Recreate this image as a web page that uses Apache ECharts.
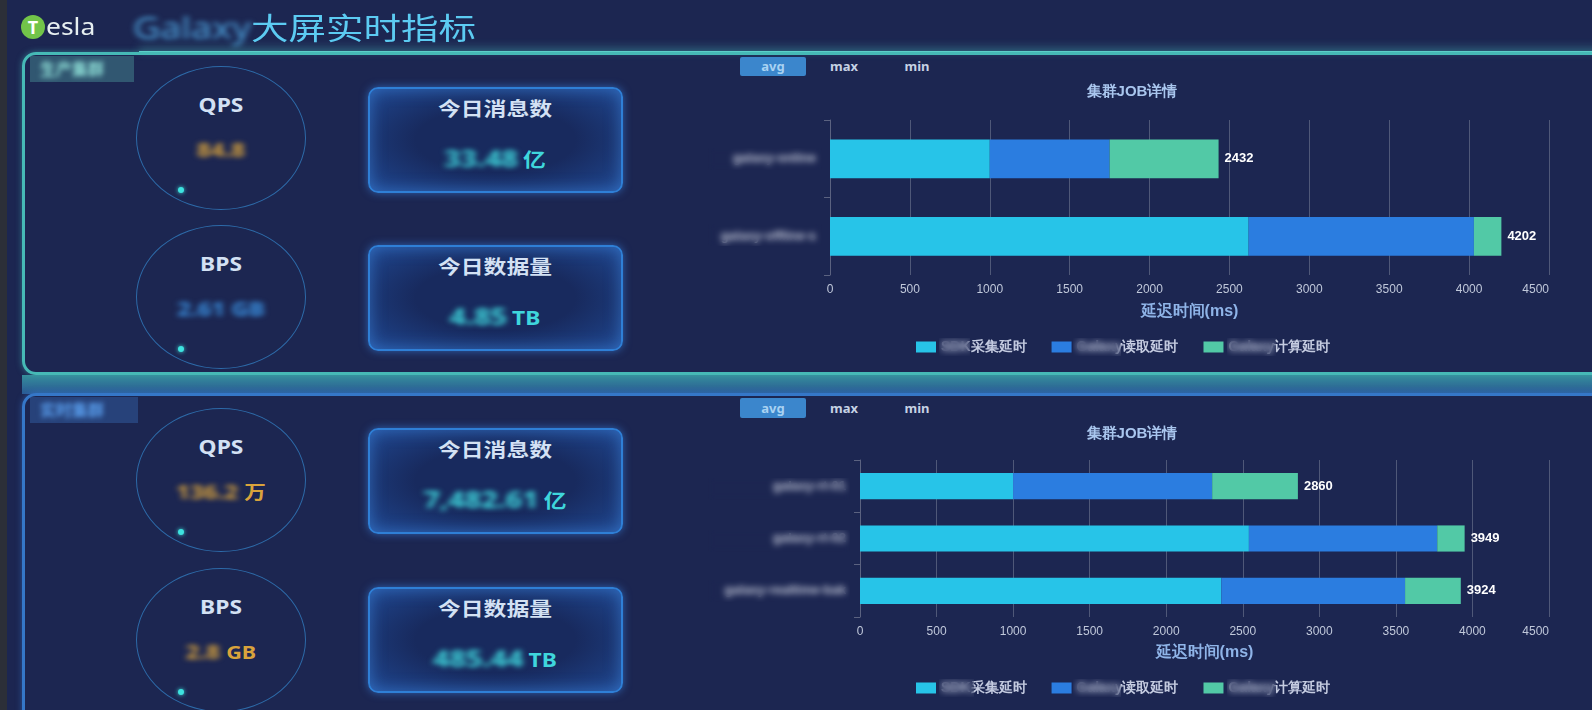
<!DOCTYPE html>
<html>
<head>
<meta charset="utf-8">
<title>Galaxy大屏实时指标</title>
<script src="https://cdn.jsdelivr.net/npm/echarts/dist/echarts.min.js"></script>
<style>
  html, body { margin: 0; padding: 0; }
  body {
    width: 1592px; height: 710px; overflow: hidden; position: relative;
    background: #1c2651;
    font-family: "Noto Sans", "Noto Sans CJK SC", sans-serif;
  }
  .abs { position: absolute; }
  .ctr { position: absolute; white-space: nowrap; transform: translate(-50%, -50%) scaleX(1.2); }
  .strip { left: 0; top: 0; width: 7px; height: 710px; background: #2c2f38; z-index: 5; }
  .logo { left: 21px; top: 15px; width: 24px; height: 24px; border-radius: 50%; background: #72c449;
          color: #fff; font-weight: bold; font-size: 18px; line-height: 24px; text-align: center; }
  .brand { left: 46px; top: 10px; color: #e6eef0; font-size: 23px; transform: scaleX(1.15); transform-origin: 0 50%; }
  .head-title { left: 133px; top: 4px; font-size: 30px; color: #5ccbf2; white-space: nowrap;
                transform: scaleX(1.25); transform-origin: 0 50%; }
  .masked { filter: blur(2.5px); }
  .head-line { left: 139px; top: 51px; width: 1470px; height: 3px; background: #63d7cd;
               box-shadow: 0 -3px 9px rgba(90, 210, 200, .55); }
  .panel { box-sizing: border-box; border-radius: 14px; }
  .panel-top { left: 22px; top: 52px; width: 1620px; height: 323px; border: 3px solid #46b9b6;
               box-shadow: 0 0 6px rgba(70, 190, 190, .5); }
  .band { left: 22px; top: 375px; width: 1620px; height: 19px;
          background: linear-gradient(to bottom, rgba(58, 160, 168, .85), rgba(44, 98, 160, .85)); }
  .panel-bot { left: 22px; top: 393px; width: 1620px; height: 400px; border: 3px solid #3577c8;
               box-shadow: 0 0 6px rgba(60, 130, 220, .5); }
  .tab { box-sizing: border-box; font-size: 16px; font-weight: bold; line-height: 26px; padding-left: 10px; }
  .ring { position: absolute; width: 170px; height: 144px; border: 1.5px solid #2d6aa8;
          border-radius: 50%; box-sizing: border-box; }
  .dot { position: absolute; width: 6px; height: 6px; border-radius: 50%; background: #3ee3e0;
         box-shadow: 0 0 4px #3ee3e0; }
  .lbl { color: #d3e1f4; font-weight: bold; font-size: 19px; }
  .orange { color: #d9a33c; font-weight: bold; font-size: 20px; }
  .cyan { color: #3fd6dc; font-weight: bold; }
  .box { position: absolute; left: 368px; width: 255px; height: 106px; box-sizing: border-box;
         border: 2px solid #2f7fd6; border-radius: 10px;
         background: radial-gradient(ellipse at center, #182a5e 45%, #1f4790 100%);
         box-shadow: 0 0 8px rgba(60, 140, 240, .6), inset 0 0 16px rgba(70, 150, 240, .5); }
  .btn { position: absolute; font-size: 13px; font-weight: bold; color: #c6d2e4; text-align: center; }
  .btn-on { background: #3b86cc; color: #a9d2f2; border-radius: 2px; }
  .chart { position: absolute; left: 700px; width: 892px; height: 290px; }
  .blur { position: absolute; backdrop-filter: blur(3px); -webkit-backdrop-filter: blur(3px); z-index: 10; }
</style>
</head>
<body>
<div class="abs strip"></div>

<!-- header -->
<div class="abs logo">T</div>
<div class="abs brand">esla</div>
<div class="abs head-title"><span class="masked" style="color:#4c9fd8">Galaxy</span>大屏实时指标</div>
<div class="abs head-line"></div>

<!-- cluster panels -->
<div class="abs panel panel-top"></div>
<div class="abs band"></div>
<div class="abs panel panel-bot"></div>
<div class="abs tab" style="left:30px;top:56px;width:104px;height:26px;background:rgba(90,180,175,.35);color:#8fe0d8;">
  <span class="masked">生产集群</span></div>
<div class="abs tab" style="left:30px;top:397px;width:108px;height:26px;background:rgba(60,120,200,.35);color:#5aa0f0;">
  <span class="masked">实时集群</span></div>

<div id="metrics"></div>

<!-- aggregation switch -->
<div class="btn btn-on" style="left:740px;top:57px;width:66px;height:19px;line-height:19px;">avg</div>
<div class="btn" style="left:824px;top:57px;width:40px;line-height:19px;">max</div>
<div class="btn" style="left:897px;top:57px;width:40px;line-height:19px;">min</div>
<div class="btn btn-on" style="left:740px;top:398px;width:66px;height:20px;line-height:20px;">avg</div>
<div class="btn" style="left:824px;top:398px;width:40px;line-height:20px;">max</div>
<div class="btn" style="left:897px;top:398px;width:40px;line-height:20px;">min</div>

<div id="chartTop" class="chart" style="top:80px;"></div>
<div id="chartBot" class="chart" style="top:420px;"></div>

<!-- masked cluster names and product names -->
<div class="blur" style="left:708px;top:148px;width:114px;height:22px;"></div>
<div class="blur" style="left:708px;top:224px;width:114px;height:22px;"></div>
<div class="blur" style="left:708px;top:478px;width:142px;height:22px;"></div>
<div class="blur" style="left:708px;top:530px;width:142px;height:22px;"></div>
<div class="blur" style="left:708px;top:580px;width:142px;height:22px;"></div>
<div class="blur" style="left:939px;top:338px;width:31px;height:18px;"></div>
<div class="blur" style="left:1073px;top:338px;width:48px;height:18px;"></div>
<div class="blur" style="left:1227px;top:338px;width:49px;height:18px;"></div>
<div class="blur" style="left:939px;top:679px;width:35px;height:18px;"></div>
<div class="blur" style="left:1073px;top:679px;width:48px;height:18px;"></div>
<div class="blur" style="left:1227px;top:679px;width:49px;height:18px;"></div>

<script>
// ---- cluster summary figures ----
const summaryCenters = [138, 297, 480, 640];          // ring centres (y) for QPS/BPS of both clusters
const boxTops = [87, 245, 428, 587];
const qpsValues = ['84.8', '136.2'];
const qpsUnits = ['', '万'];
const bpsValues = ['2.61 GB', '2.8'];
const bpsUnits = ['', 'GB'];
const msgValues = ['33.48', '7,482.61'];
const volValues = ['4.85', '485.44'];

// ---- JOB latency (ms) per cluster ----
const seriesNames = ['SDK采集延时', 'Galaxy读取延时', 'Galaxy计算延时'];
const seriesColors = ['#27c4e8', '#2b7de0', '#52c9a6'];

const topClusters = ['galaxy-online', 'galaxy-offline-s'];
const topCollect = [1000, 2620];
const topRead = [750, 1410];
const topCompute = [682, 172];

const botClusters = ['galaxy-rt-01', 'galaxy-rt-02', 'galaxy-realtime-bak'];
const botCollect = [1000, 2540, 2360];
const botRead = [1300, 1230, 1200];
const botCompute = [560, 179, 364];

const axisMin = 0, axisMax = 4500, axisStep = 500;

// ---- summary widgets (rings and boxes) ----
(function buildMetrics() {
  const root = document.getElementById('metrics');
  let html = '';
  summaryCenters.forEach(function (cy, i) {
    const cluster = Math.floor(i / 2);
    const isQps = i % 2 === 0;
    html += '<div class="ring" style="left:136px;top:' + (cy - 72) + 'px"></div>';
    html += '<div class="dot" style="left:178px;top:' + (cy + 49) + 'px"></div>';
    html += '<div class="ctr lbl" style="left:221px;top:' + (cy - 33) + 'px">' + (isQps ? 'QPS' : 'BPS') + '</div>';
    const val = isQps ? qpsValues[cluster] : bpsValues[cluster];
    const unit = isQps ? qpsUnits[cluster] : bpsUnits[cluster];
    const valColor = (!isQps && cluster === 0) ? 'color:#3a90e0;' : '';
    html += '<div class="ctr orange" style="left:221px;top:' + (cy + 11) + 'px">' +
      '<span class="masked" style="' + valColor + '">' + val + '</span>' +
      (unit ? ' <span style="font-size:18px">' + unit + '</span>' : '') + '</div>';
  });
  boxTops.forEach(function (top, i) {
    const cluster = Math.floor(i / 2);
    const isMsg = i % 2 === 0;
    html += '<div class="box" style="top:' + top + 'px"></div>';
    html += '<div class="ctr lbl" style="left:495px;top:' + (top + 21) + 'px">' + (isMsg ? '今日消息数' : '今日数据量') + '</div>';
    const val = isMsg ? msgValues[cluster] : volValues[cluster];
    html += '<div class="ctr cyan" style="left:495px;top:' + (top + 70) + 'px">' +
      '<span class="masked" style="font-size:24px">' + val + '</span> ' +
      '<span style="font-size:19px">' + (isMsg ? '亿' : 'TB') + '</span></div>';
  });
  root.innerHTML = html;
})();

// ---- stacked latency bars ----
function latencyOption(clusters, collect, read, compute, layout) {
  const totals = clusters.map(function (_, i) { return collect[i] + read[i] + compute[i]; });
  const parts = [collect, read, compute];
  return {
    animation: false,
    title: {
      text: '集群JOB详情', left: 432, top: layout.titleTop, textAlign: 'center', padding: 0,
      textStyle: { color: '#a9c6ee', fontSize: 15, fontWeight: 'bold' }
    },
    legend: {
      data: seriesNames, left: 216, top: layout.legendTop, padding: 0,
      icon: 'rect', itemWidth: 20, itemHeight: 11, itemGap: 25,
      textStyle: { color: '#c4cbe0', fontSize: 14, fontWeight: 'bold' }
    },
    grid: { left: layout.left, right: 43, top: 40, bottom: layout.bottom },
    xAxis: {
      type: 'value', min: axisMin, max: axisMax, interval: axisStep,
      name: '延迟时间(ms)', nameLocation: 'middle', nameGap: layout.nameGap,
      nameTextStyle: { color: '#8fb4e8', fontSize: 16, fontWeight: 'bold' },
      axisLine: { show: false }, axisTick: { show: false },
      axisLabel: {
        color: '#c0c8da', fontSize: 12, margin: 9, alignMaxLabel: 'right',
        formatter: function (v) { return String(v); }
      },
      splitLine: { show: true, lineStyle: { color: '#4f5878', width: 1 } }
    },
    yAxis: {
      type: 'category', data: clusters, inverse: true,
      axisLine: { show: true, lineStyle: { color: '#5b6280' } },
      axisTick: { show: true, length: 6, lineStyle: { color: '#5b6280' } },
      axisLabel: { color: '#c3c8d8', fontSize: 13, fontWeight: 'bold', margin: 14 },
      splitLine: { show: false }
    },
    series: parts.map(function (data, k) {
      const s = {
        name: seriesNames[k], type: 'bar', stack: 'latency', barWidth: '50%',
        data: data, itemStyle: { color: seriesColors[k] }
      };
      if (k === parts.length - 1) {
        s.label = {
          show: true, position: 'right', distance: 6,
          color: '#ffffff', fontSize: 13, fontWeight: 'bold',
          formatter: function (p) { return String(totals[p.dataIndex]); }
        };
      }
      return s;
    })
  };
}

echarts.init(document.getElementById('chartTop')).setOption(
  latencyOption(topClusters, topCollect, topRead, topCompute,
    { titleTop: 4, legendTop: 260, left: 130, bottom: 95, nameGap: 29 }));
echarts.init(document.getElementById('chartBot')).setOption(
  latencyOption(botClusters, botCollect, botRead, botCompute,
    { titleTop: 6, legendTop: 261, left: 160, bottom: 93, nameGap: 28 }));
</script>
</body>
</html>
